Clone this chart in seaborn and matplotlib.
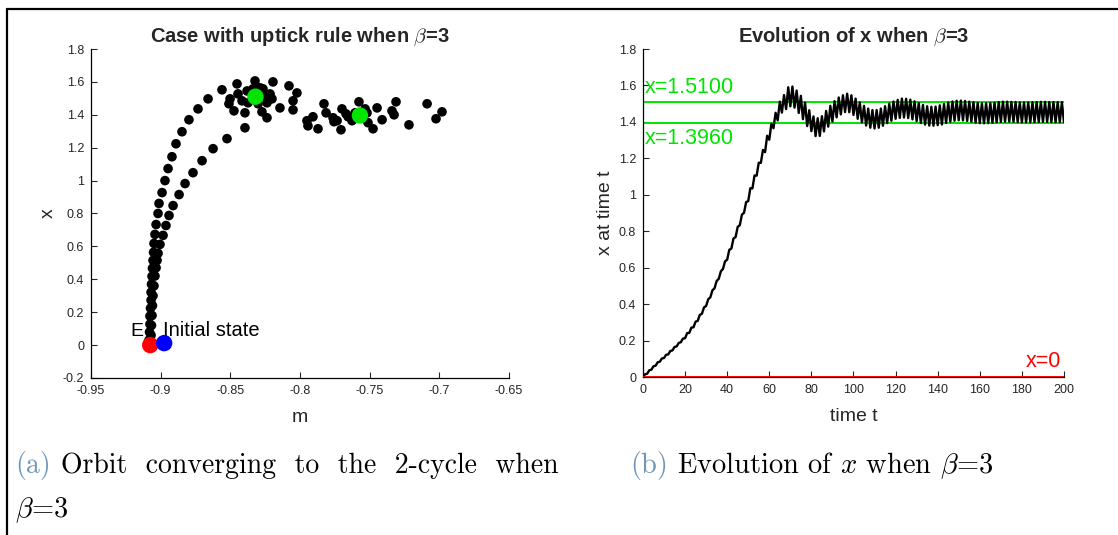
import numpy as np
import pandas as pd
import matplotlib
matplotlib.use("Agg")
import matplotlib.pyplot as plt
from matplotlib.lines import Line2D
import seaborn as sns

# ---------------- data: left panel (orbit in (m, x) plane) ----------------
orbit_m = [
    -0.9084, -0.9080, -0.9077, -0.9077, -0.9073, -0.9069, -0.9069, -0.9066, -0.9062, -0.9059,
    -0.9055, -0.9051, -0.9048, -0.9041, -0.9033, -0.9019, -0.9012, -0.8990, -0.8969, -0.8947,
    -0.8919, -0.8890, -0.8847, -0.8797, -0.8732, -0.8660, -0.8560, -0.8452, -0.8323, -0.8194,
    -0.8079, -0.8022, -0.8050, -0.8050,
    -0.9069, -0.9066, -0.9062, -0.9059, -0.9055, -0.9048, -0.9041, -0.9033, -0.9026, -0.9019,
    -0.9005, -0.8983, -0.8962, -0.8940, -0.8911, -0.8868, -0.8825, -0.8768, -0.8703, -0.8624,
    -0.8524, -0.8395, -0.8273,
    -0.8144, -0.8237, -0.8395, -0.8474, -0.8510, -0.8502, -0.8445, -0.8380, -0.8266, -0.8215,
    -0.8201, -0.8237, -0.8301, -0.8373, -0.8416, -0.8266, -0.8287, -0.8337,
    -0.7828, -0.7813, -0.7950, -0.7943, -0.7871, -0.7907, -0.7763, -0.7734, -0.7699, -0.7706,
    -0.7577, -0.7476, -0.7519, -0.7447, -0.7411, -0.7340, -0.7311, -0.7325, -0.7218, -0.7088,
    -0.7024, -0.6981, -0.7655, -0.7627, -0.7512, -0.7533, -0.7670, -0.7756, -0.7605,
]
orbit_x = [
    0.030, 0.079, 0.127, 0.176, 0.224, 0.273, 0.321, 0.370, 0.418, 0.467,
    0.515, 0.564, 0.618, 0.673, 0.733, 0.800, 0.861, 0.927, 1.000, 1.073,
    1.145, 1.224, 1.297, 1.370, 1.436, 1.497, 1.552, 1.588, 1.606, 1.600,
    1.576, 1.533, 1.485, 1.430,
    0.060, 0.120, 0.180, 0.240, 0.300, 0.360, 0.420, 0.470, 0.515, 0.558,
    0.612, 0.667, 0.727, 0.788, 0.848, 0.915, 0.982, 1.048, 1.121, 1.194,
    1.255, 1.321, 1.418,
    1.442, 1.382, 1.412, 1.424, 1.467, 1.497, 1.527, 1.545, 1.558, 1.527,
    1.497, 1.473, 1.467, 1.473, 1.485, 1.515, 1.564, 1.558,
    1.467, 1.412, 1.364, 1.333, 1.315, 1.388, 1.382, 1.364, 1.436, 1.309,
    1.479, 1.315, 1.412, 1.442, 1.370, 1.424, 1.479, 1.400, 1.339, 1.467,
    1.376, 1.418, 1.388, 1.364, 1.352, 1.436, 1.406, 1.358, 1.412,
]
cycle_m = [-0.832, -0.757]
cycle_x = [1.510, 1.396]
E_point = (-0.9075, 0.0)
init_point = (-0.8975, 0.012)

left_xticks = [-0.95, -0.9, -0.85, -0.8, -0.75, -0.7, -0.65]
left_xticklabels = ["-0.95", "-0.9", "-0.85", "-0.8", "-0.75", "-0.7", "-0.65"]
left_yticks = [-0.2, 0, 0.2, 0.4, 0.6, 0.8, 1.0, 1.2, 1.4, 1.6, 1.8]
left_yticklabels = ["-0.2", "0", "0.2", "0.4", "0.6", "0.8", "1", "1.2", "1.4", "1.6", "1.8"]

# ---------------- data: right panel (x over time) ----------------
x_series = [
    0.000, 0.015, 0.018, 0.037, 0.040, 0.059, 0.062, 0.081, 0.084, 0.102,
    0.104, 0.122, 0.124, 0.143, 0.146, 0.165, 0.168, 0.187, 0.191, 0.211,
    0.213, 0.241, 0.242, 0.271, 0.273, 0.304, 0.308, 0.341, 0.347, 0.382,
    0.390, 0.427, 0.437, 0.476, 0.487, 0.527, 0.539, 0.580, 0.593, 0.635,
    0.644, 0.698, 0.705, 0.760, 0.768, 0.824, 0.833, 0.891, 0.901, 0.960,
    0.965, 1.036, 1.035, 1.106, 1.105, 1.176, 1.175, 1.246, 1.234, 1.324,
    1.302, 1.390, 1.365, 1.450, 1.408, 1.511, 1.451, 1.547, 1.470, 1.590,
    1.485, 1.594, 1.478, 1.572, 1.449, 1.543, 1.415, 1.506, 1.377, 1.464,
    1.349, 1.430, 1.322, 1.420, 1.323, 1.431, 1.348, 1.460, 1.374, 1.488,
    1.402, 1.514, 1.425, 1.534, 1.441, 1.546, 1.454, 1.555, 1.453, 1.546,
    1.438, 1.528, 1.417, 1.507, 1.397, 1.488, 1.380, 1.473, 1.368, 1.465,
    1.364, 1.465, 1.368, 1.473, 1.379, 1.486, 1.393, 1.500, 1.406, 1.512,
    1.417, 1.521, 1.422, 1.528, 1.424, 1.527, 1.421, 1.522, 1.414, 1.513,
    1.404, 1.503, 1.394, 1.493, 1.385, 1.486, 1.380, 1.483, 1.379, 1.484,
    1.382, 1.491, 1.386, 1.498, 1.394, 1.506, 1.401, 1.512, 1.406, 1.516,
    1.409, 1.517, 1.408, 1.515, 1.405, 1.511, 1.401, 1.508, 1.396, 1.504,
    1.393, 1.502, 1.392, 1.502, 1.393, 1.504, 1.395, 1.506, 1.398, 1.509,
    1.400, 1.511, 1.401, 1.511, 1.401, 1.510, 1.400, 1.509, 1.398, 1.507,
    1.397, 1.507, 1.397, 1.507, 1.397, 1.508, 1.398, 1.509, 1.399, 1.510,
    1.400, 1.510, 1.400, 1.509, 1.399, 1.509, 1.398, 1.508, 1.398, 1.508,
    1.398,
]
time_t = list(range(len(x_series)))
level_values = [1.5100, 1.3960]
level_labels = ["x=1.5100", "x=1.3960"]
zero_level = 0.0

right_xticks = [0, 20, 40, 60, 80, 100, 120, 140, 160, 180, 200]
right_yticks = [0, 0.2, 0.4, 0.6, 0.8, 1.0, 1.2, 1.4, 1.6, 1.8]
right_yticklabels = ["0", "0.2", "0.4", "0.6", "0.8", "1", "1.2", "1.4", "1.6", "1.8"]

# ---------------- styling ----------------
sns.set_theme(style="white")
plt.rcParams["font.family"] = ["Liberation Sans", "DejaVu Sans"]
plt.rcParams["mathtext.fontset"] = "cm"

GREEN = "#00e400"
RED = "#ff0000"
BLUE = "#0000ff"
TICKC = "#262626"

fig = plt.figure(figsize=(11.18, 5.35), dpi=100)
axL = fig.add_axes([0.0814, 0.2935, 0.3739, 0.6149])
axR = fig.add_axes([0.5751, 0.2953, 0.3766, 0.6131])

# left panel
df_orbit = pd.DataFrame({"m": orbit_m, "x": orbit_x})
sns.scatterplot(data=df_orbit, x="m", y="x", ax=axL, color="black", s=48,
                edgecolor="none", linewidth=0, zorder=3)
df_cycle = pd.DataFrame({"m": cycle_m, "x": cycle_x})
sns.scatterplot(data=df_cycle, x="m", y="x", ax=axL, color=GREEN, s=140,
                edgecolor="none", linewidth=0, zorder=4)
sns.scatterplot(x=[E_point[0]], y=[E_point[1]], ax=axL, color=RED, s=140,
                edgecolor="none", linewidth=0, zorder=4)
sns.scatterplot(x=[init_point[0]], y=[init_point[1]], ax=axL, color=BLUE, s=140,
                edgecolor="none", linewidth=0, zorder=4)
axL.text(E_point[0] - 0.0095, 0.085, "E", fontsize=14, ha="center", va="center", color="black")
axL.text(init_point[0] - 0.0008, 0.088, "Initial state", fontsize=14.5, ha="left", va="center", color="black")

axL.set_xlim(-0.95, -0.65)
axL.set_ylim(-0.2, 1.8)
axL.set_xticks(left_xticks)
axL.set_xticklabels(left_xticklabels)
axL.set_yticks(left_yticks)
axL.set_yticklabels(left_yticklabels)
axL.set_xlabel("m", fontsize=14, labelpad=9)
axL.set_ylabel("x", fontsize=14, labelpad=4)
axL.set_title(r"Case with uptick rule when $\beta$=3", fontsize=14.5, fontweight="bold", pad=5)

# right panel
df_ts = pd.DataFrame({"t": time_t, "x": x_series})
sns.lineplot(data=df_ts, x="t", y="x", ax=axR, color="black", linewidth=1.7, zorder=3)
for v, lab, dy in zip(level_values, level_labels, [0.078, -0.088]):
    axR.axhline(v, color=GREEN, linewidth=1.4, zorder=2)
    axR.text(1.0, v + dy, lab, color=GREEN, fontsize=15.5, ha="left", va="center")
axR.axhline(zero_level, color=RED, linewidth=1.4, zorder=4)
axR.text(198.5, 0.085, "x=0", color=RED, fontsize=15.5, ha="right", va="center")

axR.set_xlim(0, 200)
axR.set_ylim(0, 1.8)
axR.set_xticks(right_xticks)
axR.set_yticks(right_yticks)
axR.set_yticklabels(right_yticklabels)
axR.set_xlabel("time t", fontsize=14, labelpad=9)
axR.set_ylabel("x at time t", fontsize=14, labelpad=3)
axR.set_title(r"Evolution of x when $\beta$=3", fontsize=14.5, fontweight="bold", pad=5)

for ax in (axL, axR):
    for side in ("top", "right"):
        ax.spines[side].set_visible(False)
    for side in ("left", "bottom"):
        ax.spines[side].set_color("black")
        ax.spines[side].set_linewidth(0.9)
    ax.tick_params(direction="in", length=4, width=0.8, labelsize=9, colors=TICKC,
                   left=True, bottom=True, pad=5)
    ax.grid(False)

# page frame (top and left rules)
fig.add_artist(Line2D([0.0063, 1.0], [0.983, 0.983], transform=fig.transFigure,
                      color="black", linewidth=1.6))
fig.add_artist(Line2D([0.0063, 0.0063], [0.0, 0.983], transform=fig.transFigure,
                      color="black", linewidth=1.6))

# captions
CAPC = "#6f96b8"
fig.text(15 / 1118, 1 - 466 / 535, "(a)", fontsize=20, family="cmr10", color=CAPC, va="center", ha="left")
fig.text(61 / 1118, 1 - 466 / 535, "Orbit  converging  to  the  2-cycle  when", fontsize=20,
         family="cmr10", color="black", va="center", ha="left")
fig.text(15 / 1118, 1 - 510 / 535, r"$\beta$=3", fontsize=20.5, family="cmr10", color="black",
         va="center", ha="left")
fig.text(630 / 1118, 1 - 466 / 535, "(b)", fontsize=20.5, family="cmr10", color=CAPC, va="center", ha="left")
fig.text(677 / 1118, 1 - 466 / 535, r"Evolution of $x$ when $\beta$=3", fontsize=20.5,
         family="cmr10", color="black", va="center", ha="left")

fig.savefig("out.png", dpi=100, facecolor="white")
